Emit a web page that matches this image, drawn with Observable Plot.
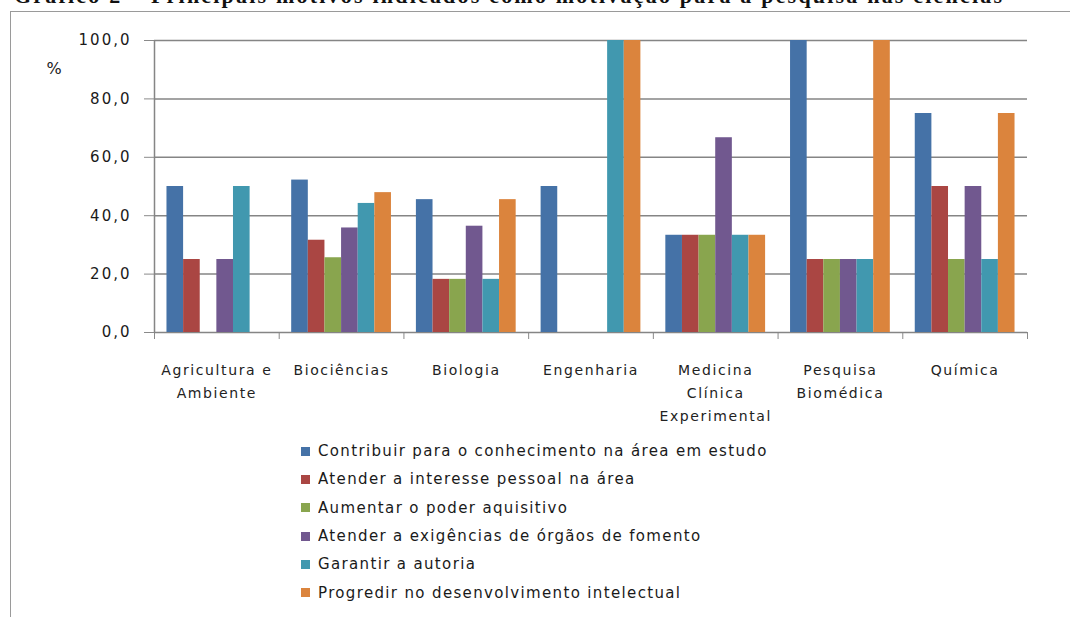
<!DOCTYPE html>
<html>
<head>
<meta charset="utf-8">
<script src="https://cdn.jsdelivr.net/npm/d3@7"></script>
<script src="https://cdn.jsdelivr.net/npm/@observablehq/plot@0.6"></script>
<style>
  html, body { margin: 0; padding: 0; background: #fff; width: 1070px; height: 617px; overflow: hidden; position: relative; }
  #title { position: absolute; left: 14px; top: -17px; font: bold 22px "Liberation Serif", serif; white-space: nowrap; color: #111; letter-spacing: 2.2px; }
  #box { position: absolute; left: 10px; top: 11px; width: 1100px; height: 640px; border-left: 1.5px solid #9a9a9a; border-top: 1.5px solid #9a9a9a; }
  #chart { position: absolute; left: 0; top: 0; }
  #chart svg text { letter-spacing: 1.6px; }
  #chart svg [aria-label^="x-axis"] line, #chart svg [aria-label^="x-axis"] path,
  #chart svg [aria-label^="y-axis"] line, #chart svg [aria-label^="y-axis"] path { stroke: #8a8a8a; }
  #chart svg [aria-label^="y-axis"] text { letter-spacing: 2px; }
  #legend { position: absolute; left: 301px; top: 437px; }
  #legend .lg-swatches { font-family: "DejaVu Sans", sans-serif; font-size: 15px; color: #1a1a1a; margin: 0; letter-spacing: 1.35px; }
  #legend .lg-swatch { height: 28.3px; padding: 0; }
  #legend .lg-swatch > svg { margin-right: 8px; }
</style>
</head>
<body>
<div id="title">Gráfico 2 – Principais motivos indicados como motivação para a pesquisa nas ciências</div>
<div id="box"></div>
<div id="chart"></div>
<div id="legend"></div>
<script>
// Research areas (x categories) and motivation series
const categories = ["Agricultura e\nAmbiente", "Biociências", "Biologia", "Engenharia", "Medicina\nClínica\nExperimental", "Pesquisa\nBiomédica", "Química"];
const series = [
  "Contribuir para o conhecimento na área em estudo",
  "Atender a interesse pessoal na área",
  "Aumentar o poder aquisitivo",
  "Atender a exigências de órgãos de fomento",
  "Garantir a autoria",
  "Progredir no desenvolvimento intelectual"
];
const colors = ["#4572A7", "#AA4643", "#89A54E", "#71588F", "#4198AF", "#DB843D"];

// Percentages per area, one array per motivation
const contribuir = [50, 52.2, 45.5, 50, 33.3, 100, 75];
const interesse  = [25, 31.6, 18.2, 0, 33.3, 25, 50];
const aquisitivo = [0, 25.6, 18.2, 0, 33.3, 25, 25];
const exigencias = [25, 35.8, 36.4, 0, 66.7, 25, 50];
const autoria    = [50, 44.2, 18.2, 100, 33.3, 25, 25];
const progredir  = [0, 47.9, 45.5, 100, 33.3, 100, 75];

const yTicks = [0, 20, 40, 60, 80, 100];

const values = [contribuir, interesse, aquisitivo, exigencias, autoria, progredir];
const rows = categories.flatMap((c, i) => series.map((s, j) => ({i, j, series: s, value: values[j][i]})))
  .filter(d => d.value > 0);

// Bars of one area share 80% of its slot, side by side
const groupWidth = 0.8;
const barWidth = groupWidth / series.length;
const left = d => d.i + (1 - groupWidth) / 2 + d.j * barWidth;

const chart = Plot.plot({
  width: 1070,
  height: 430,
  marginLeft: 154,
  marginRight: 43,
  marginTop: 40,
  marginBottom: 98,
  style: {fontFamily: "DejaVu Sans, sans-serif", fontSize: "15px", color: "#1a1a1a", background: "transparent", overflow: "visible"},
  x: {domain: [0, categories.length], ticks: d3.range(categories.length + 1), tickFormat: () => "", tickSize: 7, label: null},
  y: {domain: [0, 100], ticks: yTicks, tickFormat: d => d.toFixed(1).replace(".", ","), tickSize: 10, tickPadding: 13, label: null},
  color: {domain: series, range: colors},
  marks: [
    Plot.ruleY(yTicks, {stroke: "#858585", strokeWidth: 1.5}),
    Plot.rectY(rows, {x1: left, x2: d => left(d) + barWidth, y: "value", fill: "series"}),
    Plot.ruleX([0], {stroke: "#858585", strokeWidth: 1.5}),
    Plot.text(categories.map((c, i) => ({c, i})), {
      x: d => d.i + 0.5, y: 0, text: "c", dy: 26, lineAnchor: "top", lineHeight: 1.65, fontSize: 14, fill: "#222"
    }),
    Plot.text(["%"], {frameAnchor: "top-left", dx: -108, dy: 22, fontSize: 16, fill: "#222"})
  ]
});
document.getElementById("chart").append(chart);

const legend = Plot.legend({
  color: {type: "ordinal", domain: series, range: colors},
  legend: "swatches",
  columns: 1,
  swatchSize: 9,
  className: "lg"
});
document.getElementById("legend").append(legend);
</script>
</body>
</html>
